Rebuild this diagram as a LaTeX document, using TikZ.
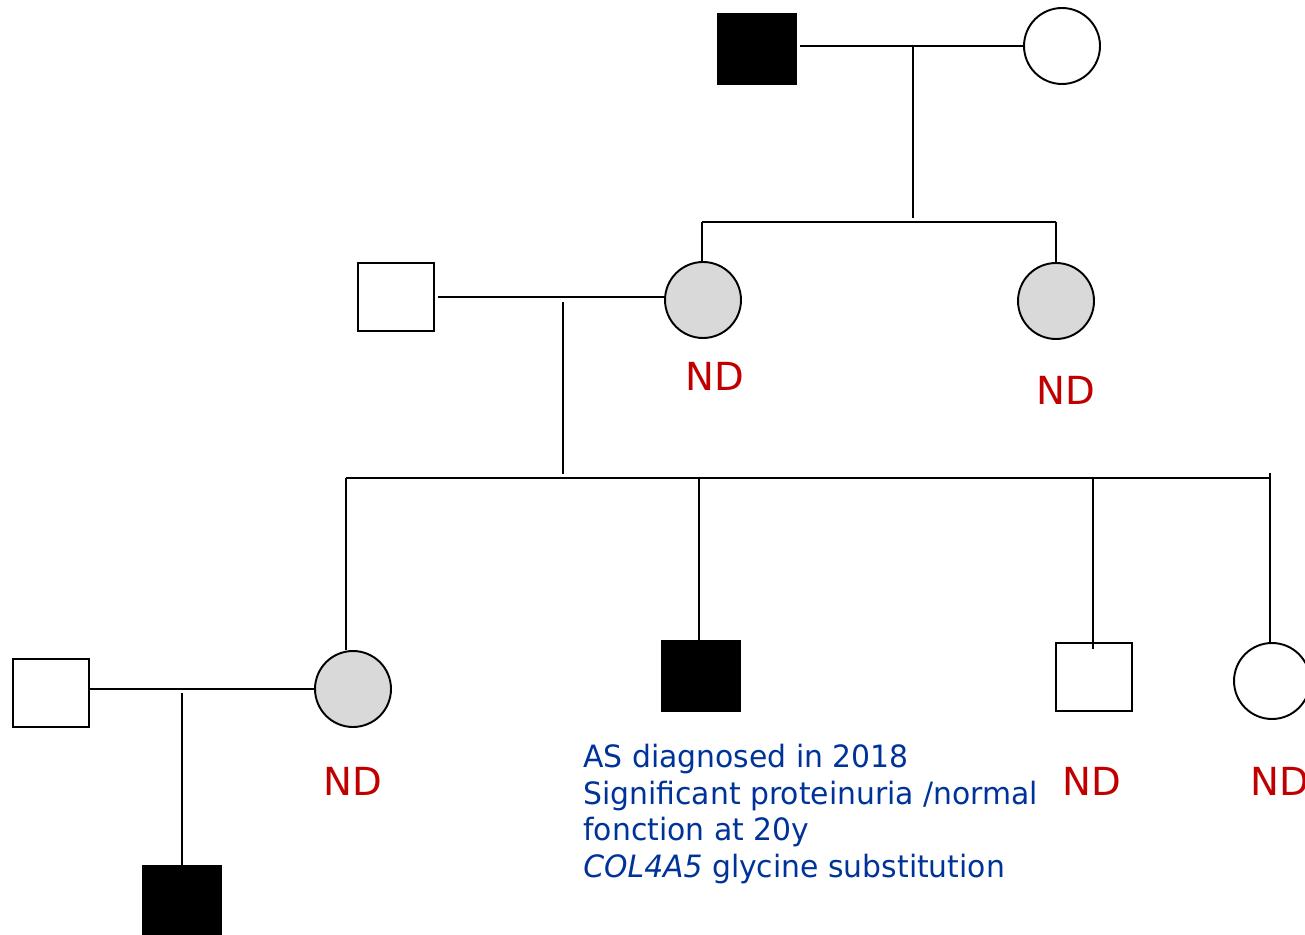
\documentclass[tikz,border=0pt]{standalone}
\usepackage{xcolor}
\usepackage{fontspec}
\setmainfont{DejaVu Sans}
\newfontfamily\notefont[FakeStretch=0.97]{DejaVu Sans}
\usepackage{tikz}
\usetikzlibrary{shapes, positioning}
\definecolor{ndred}{RGB}{192, 0, 0}
\definecolor{noteblue}{RGB}{0, 51, 153}
\definecolor{carrier}{RGB}{217, 217, 217}

\begin{document}
\begin{tikzpicture}[
  x=0.02cm, y=-0.02cm,
  male/.style={rectangle, draw, line width=1.1pt, minimum width=1.52cm, minimum height=1.36cm, inner sep=0pt},
  affected/.style={male, fill=black, minimum width=1.56cm, minimum height=1.4cm},
  female/.style={circle, draw, line width=1.1pt, minimum size=1.52cm, inner sep=0pt},
  carrierf/.style={female, fill=carrier},
  link/.style={line width=1.1pt},
  nd/.style={text=ndred, font=\fontsize{22}{26}\selectfont},
  note/.style={text=noteblue, font=\notefont\fontsize{17.5}{20.8}\selectfont, align=left, anchor=north west, inner sep=0pt}
]
\useasboundingbox (0,0) rectangle (1305,935);

% Generation I
\node[affected] (gf) at (757, 49) {};
\node[female] (gm) at (1062, 46) {};

% Generation II
\node[male] (fa) at (396, 297) {};
\node[carrierf] (mo) at (703, 300) {};
\node[carrierf] (aunt) at (1056, 301) {};
\node[nd] (ndmo) at (715, 376) {ND};
\node[nd] (ndaunt) at (1066, 390) {ND};

% Generation III
\node[male] (hus) at (51, 693) {};
\node[carrierf] (sis) at (353, 689) {};
\node[affected] (prob) at (701, 676) {};
\node[male] (bro) at (1094, 677) {};
\node[female] (sis2) at (1272, 681) {};
\node[nd] (ndsis) at (353, 781) {ND};
\node[nd] (ndbro) at (1092, 781) {ND};
\node[nd] (ndsis2) at (1280, 781) {ND};
\node[note] (info) at (583, 744) {AS diagnosed in 2018\\
  Significant proteinuria /normal\\
  fonction at 20y\\
  \textit{COL4A5} glycine substitution};

% Generation IV
\node[affected] (son) at (182, 901) {};

% Junction points
\coordinate (m1) at (913, 46);
\coordinate (s1) at (913, 218);
\coordinate (s1l) at (702, 222);
\coordinate (s1r) at (1056, 222);
\coordinate (m2) at (563, 302);
\coordinate (s2) at (563, 474);
\coordinate (s2l) at (346, 478);
\coordinate (s2m) at (699, 478);
\coordinate (s2b) at (1093, 478);
\coordinate (s2r) at (1270, 478);
\coordinate (m3) at (182, 693);

% Marriages
\draw[link] ([xshift=2pt]gf.east |- gm.west) -- (gm.west);
\draw[link] ([xshift=2pt]fa.east) -- (fa.east -| mo.west);
\draw[link] (hus.east |- sis.west) -- (sis.west);

% Descent
\draw[link] (m1) -- (s1);
\draw[link] (s1l) -- (s1r);
\draw[link] (s1l) -- (s1l |- mo.north);
\draw[link] (s1r) -- (s1r |- aunt.north);
\draw[link] (m2) -- (s2);
\draw[link] (s2l) -- (s2r);
\draw[link] (s2l) -- (s2l |- sis.north);
\draw[link] (s2m) -- (s2m |- prob.north);
\draw[link] (s2b) -- ([yshift=-4pt]s2b |- bro.north);
\draw[link] ([yshift=3pt]s2r) -- (s2r |- sis2.north);
\draw[link] (m3) -- (son.north);

\end{tikzpicture}
\end{document}
